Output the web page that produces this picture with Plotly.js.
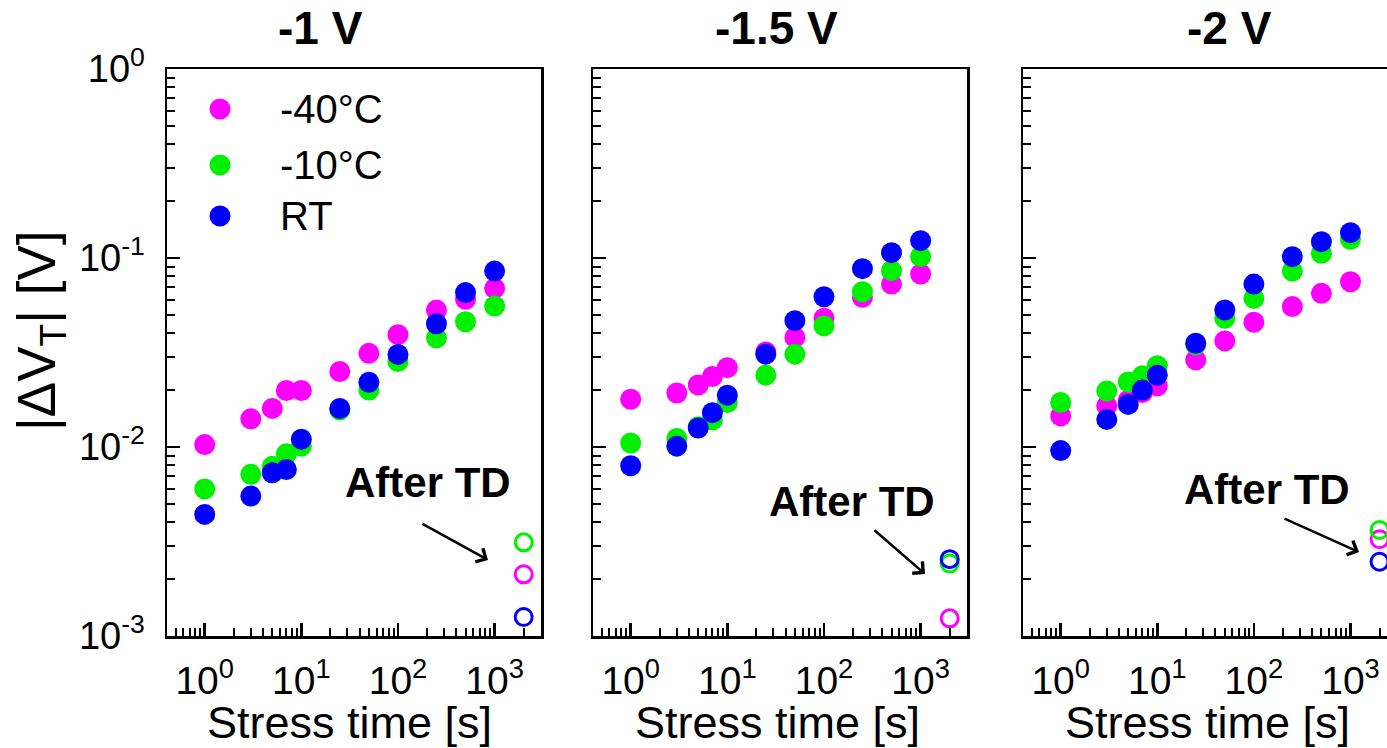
<!DOCTYPE html>
<html>
<head>
<meta charset="utf-8">
<script src="https://cdn.plot.ly/plotly-3.0.1.min.js"></script>
<style>html,body{margin:0;padding:0;background:#fff;}#chart{width:1387px;height:748px;}</style>
</head>
<body>
<div id="chart"></div>
<script>
// ---- data ----
const stressTime = [1, 3, 5, 7, 10, 25, 50, 100, 250, 500, 1000];
const afterTdTime = [2000];
const seriesNames = ['-40\u00B0C', '-10\u00B0C', 'RT'];
const panelTitles = ['-1 V', '-1.5 V', '-2 V'];

const p1_m40 = [0.0103, 0.0141, 0.0160, 0.0199, 0.0199, 0.0251, 0.0313, 0.0393, 0.0530, 0.0605, 0.0691];
const p1_m10 = [0.0060, 0.00717, 0.0079, 0.0092, 0.0101, 0.0157, 0.0200, 0.0283, 0.0378, 0.0460, 0.0557];
const p1_rt  = [0.0044, 0.0055, 0.0073, 0.0076, 0.0110, 0.0160, 0.0220, 0.0309, 0.0449, 0.0656, 0.0853];
const p1_td  = [0.00212, 0.00313, 0.00126]; // -40C, -10C, RT

const p2_m40 = [0.0179, 0.0193, 0.0213, 0.0236, 0.0263, 0.0318, 0.0380, 0.0480, 0.0619, 0.0728, 0.0823];
const p2_m10 = [0.0105, 0.0111, 0.0128, 0.0139, 0.0172, 0.0240, 0.0310, 0.0437, 0.0663, 0.0857, 0.1016];
const p2_rt  = [0.00796, 0.0101, 0.0126, 0.0152, 0.0188, 0.0310, 0.0466, 0.0624, 0.0878, 0.1067, 0.1235];
const p2_td  = [0.00124, 0.00242, 0.00255];

const p3_m40 = [0.0146, 0.0165, 0.0177, 0.0194, 0.0211, 0.0289, 0.0364, 0.0457, 0.0553, 0.0650, 0.0749];
const p3_m10 = [0.0172, 0.0198, 0.0221, 0.0238, 0.0269, 0.0347, 0.0480, 0.0612, 0.0853, 0.1059, 0.1255];
const p3_rt  = [0.00957, 0.0140, 0.0168, 0.0200, 0.0240, 0.0354, 0.0531, 0.0728, 0.1016, 0.1220, 0.1361];
const p3_td  = [0.00325, 0.00364, 0.00247];

const xTickVals = [1, 10, 100, 1000];
const xTickText = ['10<sup>0</sup>', '10<sup>1</sup>', '10<sup>2</sup>', '10<sup>3</sup>'];
const yTickVals = [0.001, 0.01, 0.1, 1];
const yTickText = ['10<sup>-3</sup>', '10<sup>-2</sup>', '10<sup>-1</sup>', '10<sup>0</sup>'];
const xMinorVals = [0.5,0.6,0.7,0.8,0.9, 2,3,4,5,6,7,8,9, 20,30,40,50,60,70,80,90, 200,300,400,500,600,700,800,900, 2000,3000];
const yMinorVals = [0.002,0.003,0.004,0.005,0.006,0.007,0.008,0.009, 0.02,0.03,0.04,0.05,0.06,0.07,0.08,0.09, 0.2,0.3,0.4,0.5,0.6,0.7,0.8,0.9];

// ---- styling ----
const FONT = 'Liberation Sans, Arial, Helvetica, sans-serif';
const colors = ['#FF00FF', '#00F000', '#0000FF'];
const W = 1387, H = 748;
const px = v => v / W;
const py = v => 1 - v / H;

const panels = [
  {series: [p1_m40, p1_m10, p1_rt], td: p1_td, dom: [167, 541], range: [-0.39, 3.48]},
  {series: [p2_m40, p2_m10, p2_rt], td: p2_td, dom: [593, 967], range: [-0.39, 3.48]},
  {series: [p3_m40, p3_m10, p3_rt], td: p3_td, dom: [1023, 1387], range: [-0.39, 3.378]}
];

const traces = [];
panels.forEach((p, i) => {
  const xa = i === 0 ? 'x' : 'x' + (i + 1);
  const ya = i === 0 ? 'y' : 'y' + (i + 1);
  p.series.forEach((vals, k) => {
    traces.push({
      x: stressTime, y: vals, xaxis: xa, yaxis: ya, type: 'scatter', mode: 'markers',
      name: seriesNames[k], showlegend: false, cliponaxis: false,
      marker: {color: colors[k], size: 21, line: {width: 0}}
    });
  });
  p.td.forEach((v, k) => {
    traces.push({
      x: afterTdTime, y: [v], xaxis: xa, yaxis: ya, type: 'scatter', mode: 'markers',
      name: seriesNames[k] + ' after TD', showlegend: false, cliponaxis: false,
      marker: {symbol: 'circle-open', color: colors[k], size: 17, line: {width: 3, color: colors[k]}}
    });
  });
});

const layout = {
  width: W, height: H,
  margin: {l: 0, r: 0, t: 0, b: 0, pad: 0},
  paper_bgcolor: '#fff', plot_bgcolor: '#fff',
  showlegend: false,
  font: {family: FONT, color: '#000'},
  annotations: [], shapes: []
};

panels.forEach((p, i) => {
  const sx = i === 0 ? '' : String(i + 1);
  layout['xaxis' + sx] = {
    type: 'log', domain: [px(p.dom[0]), Math.min(1, px(p.dom[1]))], range: p.range,
    anchor: 'y' + sx, showgrid: false, zeroline: false,
    showline: true, linecolor: '#000', linewidth: 2.5, mirror: true,
    ticks: 'inside', ticklen: 13, tickwidth: 2.5, tickcolor: '#000',
    tickmode: 'array', tickvals: xTickVals, ticktext: xTickText,
    tickfont: {family: FONT, size: 39, color: '#000'}, ticklabelstandoff: 9,
    minor: {ticks: 'inside', ticklen: 8, tickwidth: 2, tickcolor: '#000', tickmode: 'array', tickvals: xMinorVals, showgrid: false},
    fixedrange: true
  };
  layout['yaxis' + sx] = {
    type: 'log', domain: [py(636), py(69)], range: [-3, 0],
    anchor: 'x' + sx, showgrid: false, zeroline: false,
    showline: true, linecolor: '#000', linewidth: 2.5, mirror: i < 2,
    ticks: 'inside', ticklen: 13, tickwidth: 2.5, tickcolor: '#000',
    tickmode: 'array', tickvals: yTickVals, ticktext: yTickText,
    showticklabels: i === 0,
    tickfont: {family: FONT, size: 38, color: '#000'}, ticklabelstandoff: 12,
    minor: {ticks: 'inside', ticklen: 8, tickwidth: 2, tickcolor: '#000', tickmode: 'array', tickvals: yMinorVals, showgrid: false},
    fixedrange: true
  };
});

// panel titles
const titleX = [320, 776, 1229];
panelTitles.forEach((t, i) => {
  layout.annotations.push({text: t, xref: 'paper', yref: 'paper', x: px(titleX[i]), y: py(28),
    xanchor: 'center', yanchor: 'middle', showarrow: false,
    font: {family: FONT, size: 46, weight: 'bold', color: '#000'}});
});

// x axis titles
const xTitleX = [349, 777, 1207];
xTitleX.forEach(x => {
  layout.annotations.push({text: 'Stress time [s]', xref: 'paper', yref: 'paper', x: px(x), y: py(722),
    xanchor: 'center', yanchor: 'middle', showarrow: false,
    font: {family: FONT, size: 45, color: '#000'}});
});

// y axis title
layout.annotations.push({text: '|\u0394V<sub>T</sub>| [V]', xref: 'paper', yref: 'paper', x: px(40), y: py(331),
  xanchor: 'center', yanchor: 'middle', showarrow: false, textangle: -90,
  font: {family: FONT, size: 53, color: '#000'}});

// "After TD" labels and arrows
const tdText = [[428, 482], [852, 501], [1267, 490]];
const tdArrow = [[488, 560, 421, 523], [925, 574, 873, 529], [1359, 552, 1283, 518]];
tdText.forEach(([x, y]) => {
  layout.annotations.push({text: 'After TD', xref: 'paper', yref: 'paper', x: px(x), y: py(y),
    xanchor: 'center', yanchor: 'middle', showarrow: false,
    font: {family: FONT, size: 42, weight: 'bold', color: '#000'}});
});
tdArrow.forEach(([hx, hy, tx, ty]) => {
  layout.annotations.push({text: '', xref: 'paper', yref: 'paper', x: px(hx), y: py(hy),
    ax: tx - hx, ay: ty - hy, showarrow: true, arrowhead: 4, arrowsize: 1.2, arrowwidth: 2.5, arrowcolor: '#000'});
});

// legend (panel 1)
const legY = [109, 165, 216];
seriesNames.forEach((n, k) => {
  layout.shapes.push({type: 'circle', xref: 'paper', yref: 'paper', xsizemode: 'pixel', ysizemode: 'pixel',
    xanchor: px(220), yanchor: py(legY[k]), x0: -10.5, x1: 10.5, y0: -10.5, y1: 10.5,
    fillcolor: colors[k], line: {width: 0}});
  layout.annotations.push({text: n, xref: 'paper', yref: 'paper', x: px(278), y: py(legY[k]),
    xanchor: 'left', yanchor: 'middle', showarrow: false,
    font: {family: FONT, size: 40, color: '#000'}});
});

Plotly.newPlot('chart', traces, layout, {staticPlot: true, displayModeBar: false});
</script>
</body>
</html>
